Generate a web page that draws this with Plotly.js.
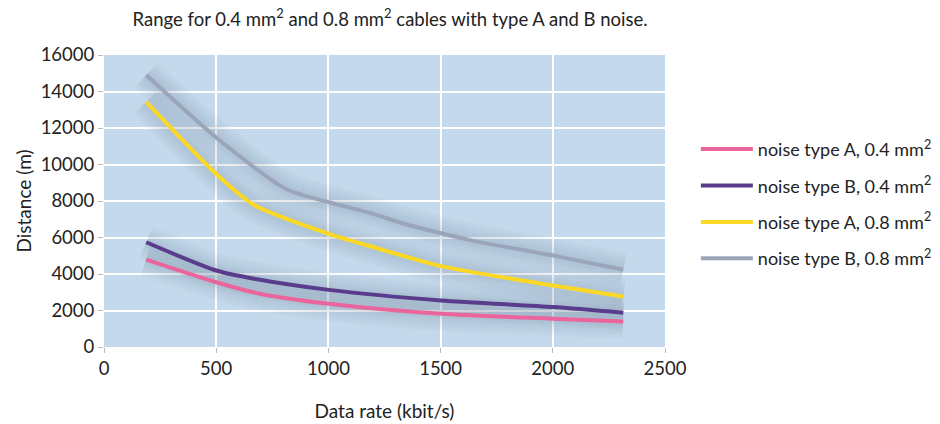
<!DOCTYPE html>
<html>
<head>
<meta charset="utf-8">
<script src="https://cdn.plot.ly/plotly-3.0.1.min.js"></script>
<style>html,body{margin:0;padding:0;background:#fff;}#chart{width:940px;height:424px;}</style>
</head>
<body>
<div id="chart"></div>
<script>
// Data
const seriesNames = [
  "noise type A, 0.4 mm<sup>2</sup>",
  "noise type B, 0.4 mm<sup>2</sup>",
  "noise type A, 0.8 mm<sup>2</sup>",
  "noise type B, 0.8 mm<sup>2</sup>"
];
const xA04 = [188, 500, 694, 1002, 1502, 2002, 2314];
const yA04 = [4790, 3550, 2920, 2370, 1820, 1550, 1400];
const xB04 = [188, 500, 669, 1002, 1502, 2002, 2314];
const yB04 = [5740, 4190, 3740, 3130, 2550, 2190, 1880];
const xA08 = [188, 500, 669, 1002, 1176, 1502, 2002, 2314];
const yA08 = [13430, 9480, 7780, 6200, 5560, 4430, 3370, 2770];
const xB08 = [188, 500, 811, 1002, 1176, 1342, 1502, 1641, 2002, 2314];
const yB08 = [14900, 11480, 8660, 7930, 7380, 6740, 6230, 5830, 5010, 4230];
const xTicks = [0, 500, 1000, 1500, 2000, 2500];
const yTicks = [0, 2000, 4000, 6000, 8000, 10000, 12000, 14000, 16000];

const colors = ["#e9659c", "#5a3c8d", "#fbd824", "#9aa5bb"];
const xs = [xA04, xB04, xA08, xB08];
const ys = [yA04, yB04, yA08, yB08];

const traces = [];
// soft shadow under each line
xs.forEach((x, i) => {
  [34, 28, 22, 16, 10].forEach(w => {
    traces.push({
      x: x, y: ys[i], mode: "lines", type: "scatter",
      line: {color: "rgba(120,135,160,0.05)", width: w, shape: "spline", smoothing: 0.7},
      showlegend: false, hoverinfo: "skip", legendgroup: "g" + i
    });
  });
});
xs.forEach((x, i) => {
  traces.push({
    x: x, y: ys[i], mode: "lines", type: "scatter", name: seriesNames[i],
    line: {color: colors[i], width: 4, shape: "spline", smoothing: 0.7},
    legendgroup: "g" + i
  });
});

const font = "Lato, 'Open Sans', sans-serif";
const layout = {
  width: 940, height: 424,
  margin: {l: 104, r: 275, t: 55, b: 77, autoexpand: false},
  paper_bgcolor: "#ffffff",
  plot_bgcolor: "#c4d9eb",
  font: {family: font, color: "#222", size: 18},
  title: {
    text: "Range for 0.4 mm<sup>2</sup> and 0.8 mm<sup>2</sup> cables with type A and B noise.",
    font: {family: font, size: 18.5, color: "#222"},
    x: 0.415, xanchor: "center", y: 0.955, yanchor: "middle"
  },
  xaxis: {
    range: [0, 2500], tickvals: xTicks, ticktext: xTicks.map(String),
    showgrid: true, gridcolor: "#ffffff", gridwidth: 2,
    zeroline: false, showline: false,
    ticks: "outside", ticklen: 5, tickcolor: "#bbbbbb",
    tickfont: {size: 18.5, family: font, color: "#222"},
    title: {text: "Data rate (kbit/s)", font: {size: 19, family: font, color: "#222"}, standoff: 26}
  },
  yaxis: {
    range: [0, 16000], tickvals: yTicks, ticktext: yTicks.map(String),
    showgrid: true, gridcolor: "#ffffff", gridwidth: 2,
    zeroline: false, showline: false,
    ticks: "outside", ticklen: 5, tickcolor: "#bbbbbb",
    tickfont: {size: 18.5, family: font, color: "#222"},
    title: {text: "Distance (m)", font: {size: 19, family: font, color: "#222"}, standoff: 3}
  },
  legend: {
    x: 1.055, xanchor: "left", y: 0.49, yanchor: "middle",
    font: {size: 18, family: font, color: "#222"},
    traceorder: "grouped", tracegroupgap: 10, itemwidth: 52,
    bgcolor: "rgba(0,0,0,0)"
  },
  showlegend: true
};
Plotly.newPlot("chart", traces, layout, {displayModeBar: false, staticPlot: true});
</script>
</body>
</html>
